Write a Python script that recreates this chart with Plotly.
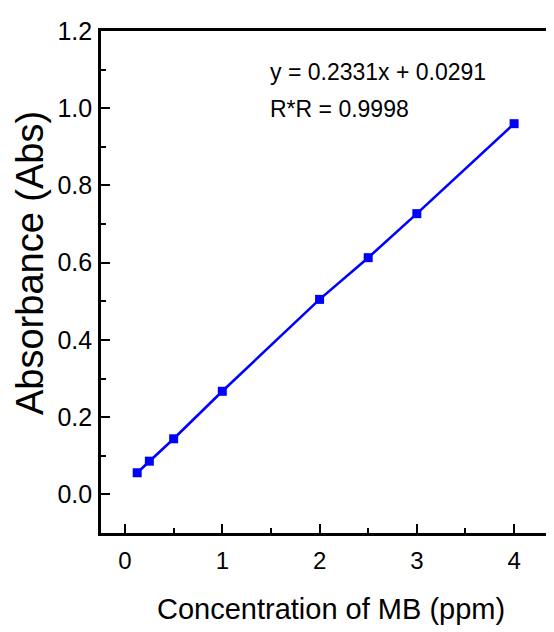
import plotly.graph_objects as go

conc = [0.125, 0.25, 0.5, 1, 2, 2.5, 3, 4]
absorb = [0.056, 0.086, 0.144, 0.267, 0.505, 0.613, 0.727, 0.960]
eq_text = "y = 0.2331x + 0.0291"
r2_text = "R*R = 0.9998"
x_title = "Concentration of MB (ppm)"
y_title = "Absorbance (Abs)"
y_ticks = [0.0, 0.2, 0.4, 0.6, 0.8, 1.0, 1.2]
x_ticks = [0, 1, 2, 3, 4]

FONT = "Liberation Sans, Arial, sans-serif"

# page body has an 8px default margin; lay out in figure pixels
OFF = 8
W, H = 554 - OFF, 632 - OFF
L, T = 101 - OFF, 31 - OFF
PB = 533 - OFF          # plot bottom (figure px)
B, R = H - PB, 0
PW, PH = W - L - R, PB - T


def px_x(x):
    return (x - OFF - L) / PW


def px_y(y):
    return (PB - (y - OFF)) / PH


fig = go.Figure()
fig.add_trace(go.Scatter(
    x=conc, y=absorb, mode="lines+markers",
    line=dict(color="#0000ff", width=2.6),
    marker=dict(symbol="square", size=9, color="#0000ff"),
    showlegend=False, cliponaxis=False,
))

fig.update_layout(
    width=W, height=H,
    margin=dict(l=L, r=R, t=T, b=B, pad=0),
    paper_bgcolor="white", plot_bgcolor="white",
    xaxis=dict(
        range=[-0.247, 4.41], tickvals=x_ticks, ticktext=[str(v) for v in x_ticks],
        ticks="inside", ticklen=9, tickwidth=2, tickcolor="black",
        minor=dict(tickvals=[0.5, 1.5, 2.5, 3.5], ticks="inside", ticklen=5, tickwidth=2, tickcolor="black"),
        showline=True, linewidth=2.6, linecolor="black", mirror=True,
        showgrid=False, zeroline=False,
        tickfont=dict(family=FONT, size=24, color="black"),
        ticklabelstandoff=4,
    ),
    yaxis=dict(
        range=[-0.1, 1.2], tickvals=y_ticks, ticktext=["%.1f" % v for v in y_ticks],
        ticks="inside", ticklen=9, tickwidth=2, tickcolor="black",
        minor=dict(tickvals=[0.1, 0.3, 0.5, 0.7, 0.9, 1.1], ticks="inside", ticklen=5, tickwidth=2, tickcolor="black"),
        showline=True, linewidth=2.6, linecolor="black", mirror=False,
        showgrid=False, zeroline=False,
        tickfont=dict(family=FONT, size=25, color="black"),
        ticklabelstandoff=1,
    ),
    annotations=[
        dict(text=eq_text, xref="paper", yref="paper", x=px_x(268), y=px_y(72),
             xanchor="left", yanchor="middle", showarrow=False,
             font=dict(family=FONT, size=23, color="black")),
        dict(text=r2_text, xref="paper", yref="paper", x=px_x(268), y=px_y(109),
             xanchor="left", yanchor="middle", showarrow=False,
             font=dict(family=FONT, size=23, color="black")),
        dict(text=x_title, xref="paper", yref="paper", x=px_x(331), y=px_y(609),
             xanchor="center", yanchor="middle", showarrow=False,
             font=dict(family=FONT, size=29, color="black")),
        dict(text=y_title, xref="paper", yref="paper", x=px_x(30), y=px_y(263),
             xanchor="center", yanchor="middle", showarrow=False, textangle=-90,
             font=dict(family=FONT, size=38, color="black")),
    ],
)

fig.write_html("out.html")
